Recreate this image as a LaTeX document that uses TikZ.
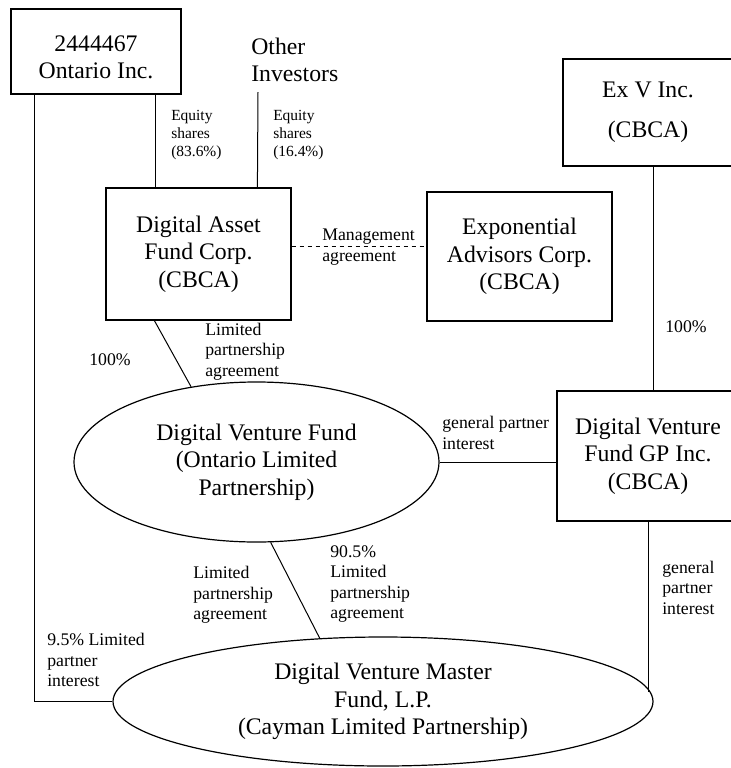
\documentclass[tikz,border=0pt]{standalone}
\usepackage{fontspec}
\setmainfont{Liberation Serif}
\usetikzlibrary{shapes.geometric}
\begin{document}
\begin{tikzpicture}[x=0.75pt,y=-0.75pt,
  box/.style={draw, line width=0.9pt, rectangle, align=center, inner sep=0pt,
    font=\fontsize{17.8pt}{20.6pt}\selectfont},
  oval/.style={draw, line width=0.9pt, ellipse, align=center, inner sep=0pt,
    font=\fontsize{17.8pt}{20.6pt}\selectfont},
  lbl/.style={anchor=west, align=left, inner sep=0pt,
    font=\fontsize{13.3pt}{15.4pt}\selectfont},
  eqlbl/.style={lbl, font=\fontsize{11.6pt}{13.5pt}\selectfont},
  conn/.style={draw, line width=0.75pt}]
\clip (0,0) rectangle (731,768);
\fill[white] (0,0) rectangle (731,768);

% entities
\node[box, minimum width=127.5pt, minimum height=63.75pt, text height=41pt] (o24) at (96,51.5) {2444467\\Ontario Inc.};
\node[anchor=west, align=left, inner sep=0pt, font=\fontsize{17.8pt}{20.6pt}\selectfont] (other) at (251,60) {Other\\Investors};
\node[box, minimum width=127.5pt, minimum height=80.25pt, font=\fontsize{17.8pt}{30pt}\selectfont] (exv) at (648,112.5) {Ex V Inc.\\(CBCA)};
\node[box, minimum width=138.75pt, minimum height=99pt] (daf) at (198.5,254) {Digital Asset\\Fund Corp.\\(CBCA)};
\node[box, minimum width=138.75pt, minimum height=96.75pt] (eac) at (519.5,256.5) {Exponential\\Advisors Corp.\\(CBCA)};
\node[box, minimum width=136.5pt, minimum height=97.5pt] (dvfgp) at (648,456) {Digital Venture\\Fund GP Inc.\\(CBCA)};
\node[oval, minimum width=273.75pt, minimum height=120pt] (dvf) at (256.5,462) {Digital Venture Fund\\(Ontario Limited\\Partnership)};
\node[oval, minimum width=405pt, minimum height=96.75pt] (dvmf) at (383,701.5) {Digital Venture Master\\Fund, L.P.\\(Cayman Limited Partnership)};

\coordinate (othertop) at (258,92);

% connectors
\draw[conn] ([xshift=18pt]o24.south west) |- (dvmf.west);
\draw[conn] ([xshift=37.5pt]daf.north west) -- ([xshift=37.5pt]daf.north west |- o24.south);
\draw[conn] ([xshift=114pt]daf.north west) -- (othertop);
\draw[conn, dashed] ([yshift=6pt]daf.east) -- ([yshift=6pt]daf.east -| eac.west);
\draw[conn] ([xshift=3.75pt]exv.south) -- ([xshift=3.75pt]exv.south |- dvfgp.north);
\draw[conn] ([xshift=36.75pt]daf.south west) -- (dvf.131.9);
\draw[conn] (dvf.east) -- (dvf.east -| dvfgp.west);
\draw[conn] (dvf.-80.6) -- (dvmf.135.6);
\draw[conn] (dvfgp.south) -- (dvfgp.south |- dvmf.2.4);

% labels
\node[eqlbl] (eq1) at (171,135) {Equity\\shares\\(83.6\%)};
\node[eqlbl] (eq2) at (273,135) {Equity\\shares\\(16.4\%)};
\node[lbl] (mgmt) at (322,247) {Management\\agreement};
\node[lbl] (pct1) at (89,360) {100\%};
\node[lbl] (lpa1) at (205,351.5) {Limited\\partnership\\agreement};
\node[lbl] (pct2) at (665,327) {100\%};
\node[lbl] (gpi1) at (442,433) {general partner\\interest};
\node[lbl] (lpa2) at (193,595) {Limited\\partnership\\agreement};
\node[lbl] (lpa3) at (330,584) {90.5\%\\Limited\\partnership\\agreement};
\node[lbl] (lpi) at (47,660) {9.5\% Limited\\partner\\interest};
\node[lbl] (gpi2) at (662,587.5) {general\\partner\\interest};
\end{tikzpicture}
\end{document}
